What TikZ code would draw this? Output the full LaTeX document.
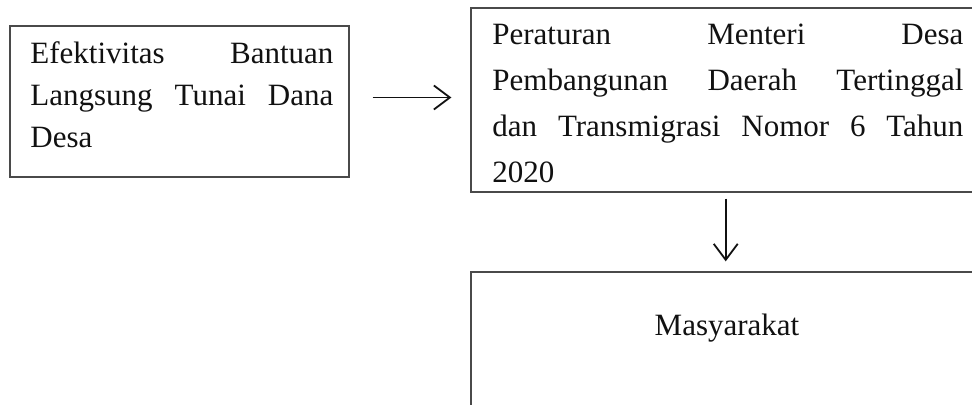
\documentclass[tikz,border=0pt]{standalone}
\usepackage{fontspec}
\setmainfont{Liberation Serif}
\usetikzlibrary{arrows.meta,positioning}
\definecolor{boxline}{HTML}{4A4A4A}
\definecolor{ink}{HTML}{111111}
\newcommand{\hurufkiri}{\fontsize{15.5pt}{21pt}\selectfont}
\newcommand{\hurufkanan}{\fontsize{15.5pt}{22.85pt}\selectfont}
\tikzset{
  kotak/.style={draw=boxline, line width=0.65pt, inner sep=0pt},
  isi/.style={inner sep=0pt, align=justify, text=ink},
  panah/.style={-{Straight Barb[length=8pt,width=12pt,line width=0.9pt]}, line width=0.9pt, color=ink},
}

\begin{document}
\begin{tikzpicture}[x=0.5pt,y=-0.5pt, font=\hurufkiri]
  \useasboundingbox (0,0) rectangle (972,405);
  \clip (0,0) rectangle (972,405);
  % kotak (pixel grid of the page)
  \node[kotak, minimum width=169.5pt, minimum height=75.5pt] (efek) at (179.5,101.5) {};
  \node[kotak, minimum width=254.7pt, minimum height=92pt] (perm) at (725.7,100) {};
  \node[kotak, minimum width=254.7pt, minimum height=84pt] (masy) at (725.7,356) {};
  % teks
  \node[isi, text width=151.5pt, anchor=base west] (efektxt) at (30,64)
    {\hurufkiri Efektivitas Bantuan\linebreak Langsung Tunai Dana\linebreak Desa\par};
  \node[isi, text width=235.5pt, anchor=base west] (permtxt) at (492,45)
    {\hurufkanan Peraturan Menteri Desa\linebreak Pembangunan Daerah Tertinggal\linebreak dan Transmigrasi Nomor 6 Tahun\linebreak 2020\par};
  \node[inner sep=0pt, anchor=base, text=ink] (masytxt) at (727,335) {Masyarakat};
  % panah
  \coordinate (kiri) at ([yshift=2pt]efek.east);
  \draw[panah, shorten <=11.5pt, shorten >=9.5pt] (kiri) -- (kiri -| perm.west);
  \draw[panah, shorten <=3pt, shorten >=5pt] (perm.south) -- (masy.north);
\end{tikzpicture}
\end{document}
